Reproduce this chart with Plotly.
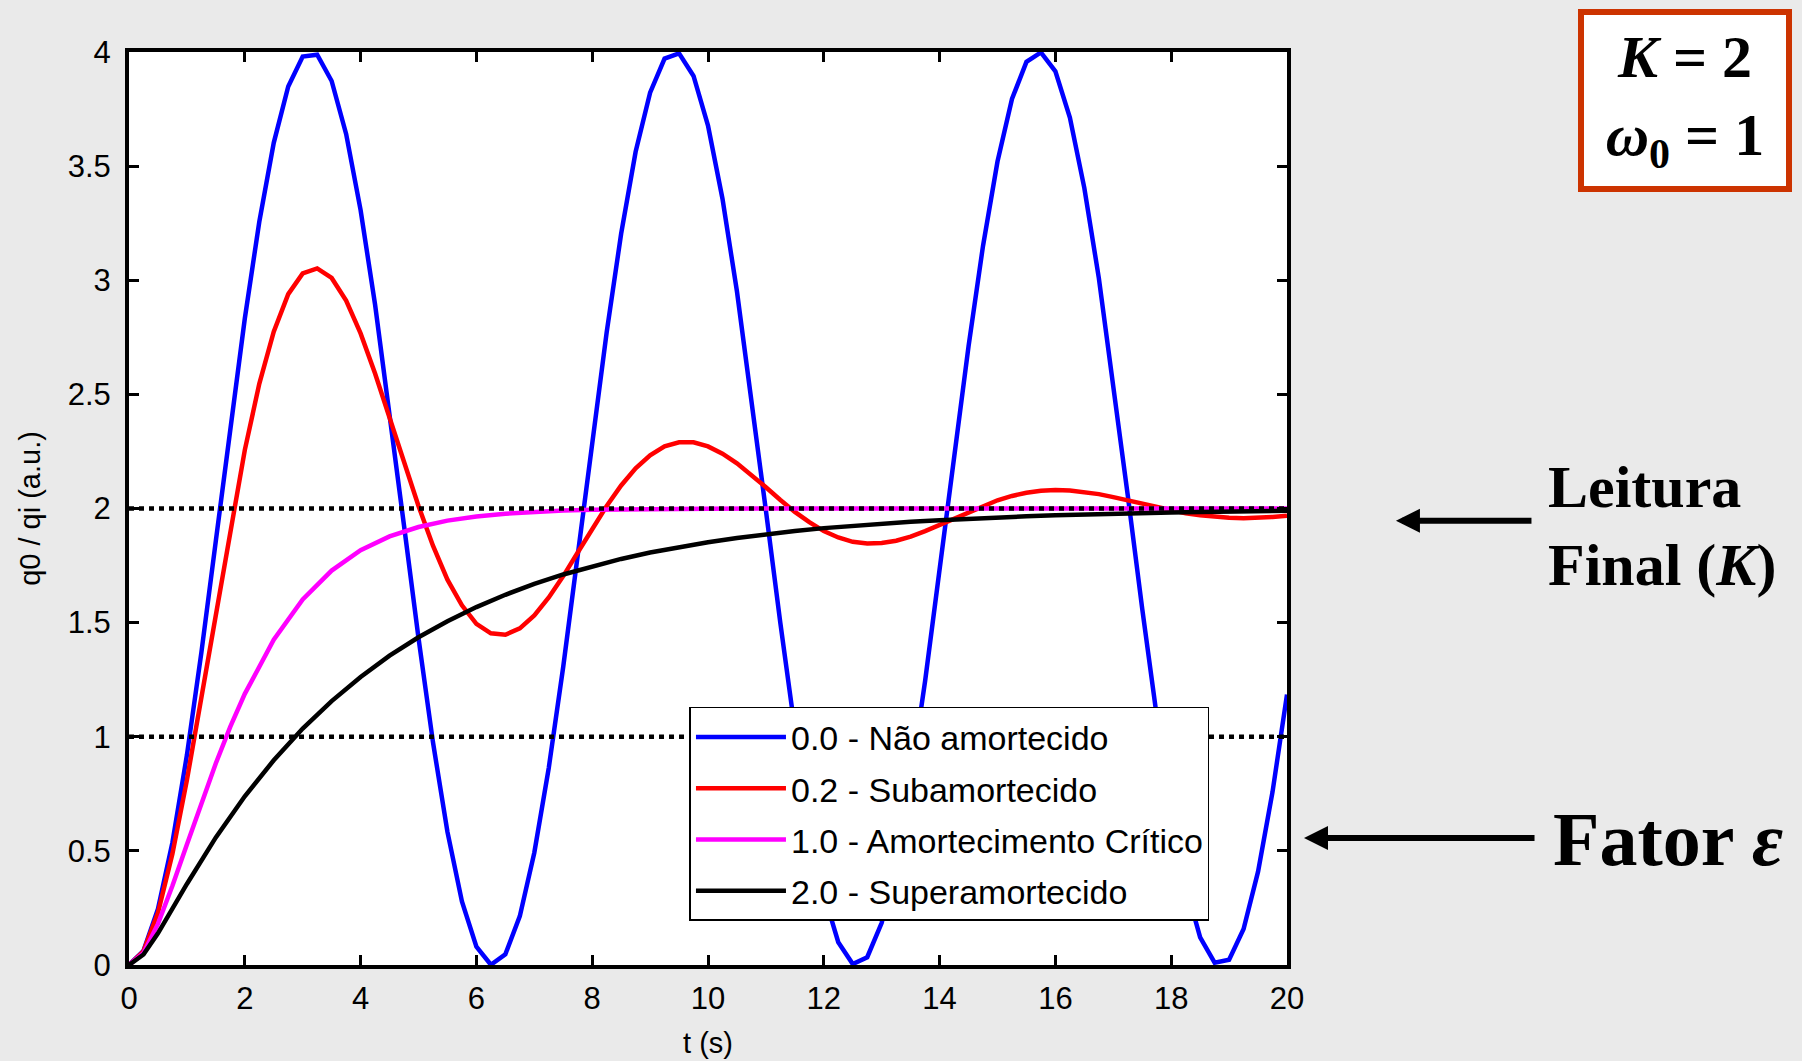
import plotly.graph_objects as go

# ---------------- data ----------------
t_osc = [0, 0.25, 0.5, 0.75, 1, 1.25, 1.5, 1.75, 2, 2.25, 2.5, 2.75, 3, 3.25, 3.5, 3.75,
         4, 4.25, 4.5, 4.75, 5, 5.25, 5.5, 5.75, 6, 6.25, 6.5, 6.75, 7, 7.25, 7.5, 7.75,
         8, 8.25, 8.5, 8.75, 9, 9.25, 9.5, 9.75, 10, 10.25, 10.5, 10.75, 11, 11.25, 11.5, 11.75,
         12, 12.25, 12.5, 12.75, 13, 13.25, 13.5, 13.75, 14, 14.25, 14.5, 14.75, 15, 15.25, 15.5, 15.75,
         16, 16.25, 16.5, 16.75, 17, 17.25, 17.5, 17.75, 18, 18.25, 18.5, 18.75, 19, 19.25, 19.5, 19.75, 20]

undamped = [0, 0.062, 0.245, 0.537, 0.919, 1.369, 1.859, 2.357, 2.832, 3.256, 3.602, 3.849, 3.980, 3.988, 3.873, 3.641,
            3.307, 2.893, 2.422, 1.925, 1.433, 0.976, 0.583, 0.278, 0.080, 0.001, 0.047, 0.214, 0.492, 0.864, 1.307, 1.793,
            2.291, 2.772, 3.204, 3.563, 3.822, 3.971, 3.994, 3.895, 3.678, 3.357, 2.951, 2.486, 1.991, 1.497, 1.033, 0.630,
            0.312, 0.100, 0.004, 0.034, 0.185, 0.449, 0.810, 1.245, 1.727, 2.226, 2.711, 3.151, 3.520, 3.794, 3.957, 3.998,
            3.915, 3.713, 3.404, 3.010, 2.550, 2.057, 1.560, 1.091, 0.679, 0.348, 0.121, 0.010, 0.023, 0.158, 0.409, 0.758, 1.185]

under_damped = [0, 0.060, 0.229, 0.487, 0.810, 1.172, 1.550, 1.917, 2.256, 2.546, 2.775, 2.939, 3.030, 3.052, 3.010, 2.911,
                2.767, 2.591, 2.401, 2.203, 2.011, 1.837, 1.688, 1.576, 1.495, 1.453, 1.447, 1.475, 1.532, 1.610, 1.704, 1.807,
                1.911, 2.011, 2.101, 2.176, 2.233, 2.272, 2.290, 2.290, 2.272, 2.240, 2.198, 2.147, 2.093, 2.037, 1.985, 1.940,
                1.901, 1.873, 1.854, 1.847, 1.849, 1.859, 1.877, 1.901, 1.928, 1.957, 1.985, 2.012, 2.036, 2.055, 2.069, 2.078,
                2.081, 2.079, 2.073, 2.063, 2.050, 2.036, 2.020, 2.005, 1.991, 1.979, 1.970, 1.963, 1.959, 1.957, 1.959, 1.963, 1.968]

t_crit = [0, 0.25, 0.5, 0.75, 1, 1.25, 1.5, 1.75, 2, 2.5, 3, 3.5, 4, 4.5, 5, 5.5, 6, 6.5, 7, 7.5,
          8, 9, 10, 12, 14, 16, 18, 20]
critical = [0, 0.053, 0.180, 0.347, 0.528, 0.711, 0.884, 1.044, 1.188, 1.425, 1.602, 1.728, 1.817, 1.878,
            1.919, 1.947, 1.965, 1.977, 1.985, 1.991, 1.994, 1.998, 1.999, 2.0, 2.0, 2.0, 2.0, 2.0]

t_over = [0, 0.25, 0.5, 0.75, 1, 1.5, 2, 2.5, 3, 3.5, 4, 4.5, 5, 5.5, 6, 6.5, 7, 7.5, 8, 8.5, 9, 9.5,
          10, 10.5, 11, 11.5, 12, 12.5, 13, 13.5, 14, 14.5, 15, 15.5, 16, 16.5, 17, 17.5, 18, 18.5, 19, 19.5, 20]
over_damped = [0, 0.046, 0.139, 0.247, 0.355, 0.559, 0.739, 0.897, 1.036, 1.156, 1.262, 1.355, 1.436, 1.506,
               1.568, 1.622, 1.670, 1.711, 1.747, 1.779, 1.807, 1.831, 1.852, 1.871, 1.887, 1.901, 1.914, 1.924,
               1.934, 1.942, 1.949, 1.956, 1.961, 1.966, 1.970, 1.974, 1.977, 1.980, 1.983, 1.985, 1.987, 1.988, 1.990]

series_names = ["0.0 - Não amortecido", "0.2 - Subamortecido",
                "1.0 - Amortecimento Crítico", "2.0 - Superamortecido"]
series_colors = ["#0000FF", "#FF0000", "#FF00FF", "#000000"]

ref_levels = [1, 2]
ref_t = [0, 20]

x_ticks = [0, 2, 4, 6, 8, 10, 12, 14, 16, 18, 20]
y_ticks = [0, 0.5, 1, 1.5, 2, 2.5, 3, 3.5, 4]
y_tick_text = ["0", "0.5", "1", "1.5", "2", "2.5", "3", "3.5", "4"]

# ---------------- figure ----------------
fig = go.Figure()
series = [(t_osc, undamped), (t_osc, under_damped), (t_crit, critical), (t_over, over_damped)]
for i, ((tx, vy), name, col) in enumerate(zip(series, series_names, series_colors)):
    fig.add_trace(go.Scatter(x=tx, y=vy, mode="lines", name=name, legendgroup=f"g{i}",
                             line=dict(color=col, width=4.5)))

for lvl in ref_levels:
    fig.add_trace(go.Scatter(x=ref_t, y=[lvl, lvl], mode="lines", showlegend=False,
                             hoverinfo="skip", line=dict(color="black", width=4.5, dash="5px,5px")))

axis_common = dict(showline=True, linewidth=4, linecolor="black", mirror="ticks",
                   ticks="inside", ticklen=10, tickwidth=3, tickcolor="black",
                   showgrid=False, zeroline=False, automargin=False)

fig.update_xaxes(range=[0, 20], tickvals=x_ticks, ticklabelstandoff=3,
                 title=dict(text="t (s)", standoff=18, font=dict(size=29)), **axis_common)
fig.update_yaxes(range=[0, 4], tickvals=y_ticks, ticktext=y_tick_text, ticklabelstandoff=8,
                 title=dict(text="q0 / qi (a.u.)", standoff=20, font=dict(size=29)), **axis_common)

fig.update_layout(
    width=1802, height=1061,
    margin=dict(l=129, r=515, t=52, b=96),
    paper_bgcolor="#EAEAEA", plot_bgcolor="white",
    font=dict(family="Liberation Sans, Arial, sans-serif", size=31, color="black"),
    showlegend=True,
    legend=dict(x=0.484, y=0.2826, xanchor="left", yanchor="top",
                bgcolor="white", bordercolor="black", borderwidth=1.5,
                font=dict(size=34), tracegroupgap=4, itemwidth=90),
)

serif = "Liberation Serif, Times New Roman, serif"
fig.add_annotation(x=1.3437, y=0.9469, xref="paper", yref="paper", showarrow=False,
                   xanchor="center", yanchor="middle",
                   text="<b><i>K</i> = 2</b><br><b><i>ω</i><sub>0</sub> = 1</b>",
                   font=dict(family=serif, size=60, color="black"),
                   bgcolor="white", bordercolor="#CC3300", borderwidth=6, borderpad=2,
                   width=198, height=167)
fig.add_annotation(x=1.2237, y=0.4808, xref="paper", yref="paper", showarrow=False,
                   xanchor="left", yanchor="middle", align="left",
                   text="<b>Leitura<br>Final (<i>K</i>)</b>",
                   font=dict(family=serif, size=60, color="black"))
fig.add_annotation(x=1.228, y=0.138, xref="paper", yref="paper", showarrow=False,
                   xanchor="left", yanchor="middle", align="left",
                   text="<b>Fator <i>ε</i></b>",
                   font=dict(family=serif, size=76, color="black"))
fig.add_annotation(x=1.0941, y=0.4865, xref="paper", yref="paper", ax=137, ay=0,
                   text="", showarrow=True, arrowhead=2, arrowsize=0.8, arrowwidth=6,
                   arrowcolor="black")
fig.add_annotation(x=1.0147, y=0.1391, xref="paper", yref="paper", ax=232, ay=0,
                   text="", showarrow=True, arrowhead=2, arrowsize=0.8, arrowwidth=6,
                   arrowcolor="black")

fig.write_html("out.html")
